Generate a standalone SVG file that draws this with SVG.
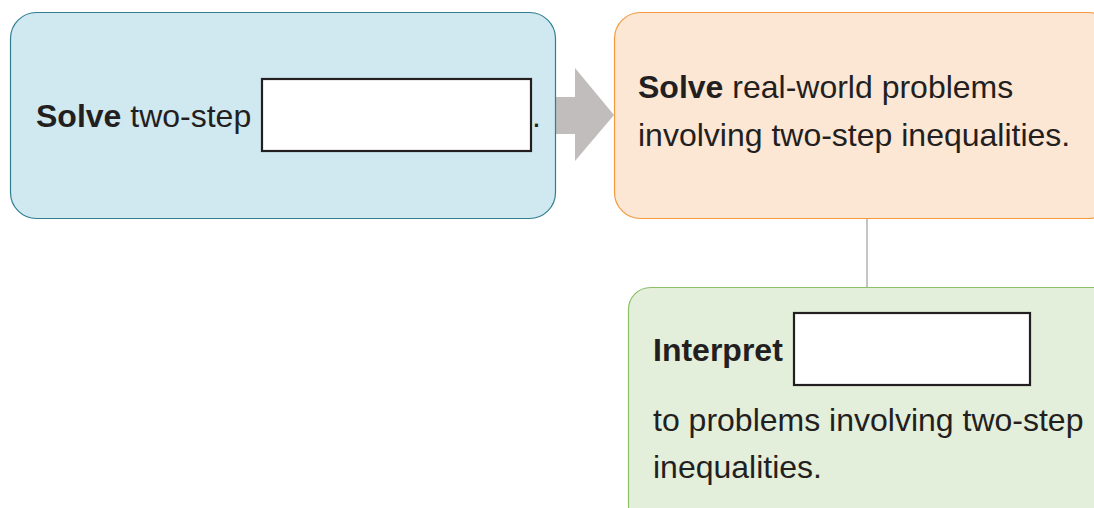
<svg xmlns="http://www.w3.org/2000/svg" width="1094" height="508" viewBox="0 0 1094 508">
<style>
text{font-family:"Liberation Sans",Arial,Helvetica,sans-serif;font-size:32px;fill:#231f20}
.b{font-weight:bold}
.blank{fill:#fff;stroke:#231f20;stroke-width:2.2}
</style>
<rect width="1094" height="508" fill="#fff"/>
<g id="connectors">
<polygon points="555,97 575,97 575,68 614,115 575,161 575,134 555,134" fill="#c1bdbc"/>
<line x1="867" y1="218" x2="867" y2="287" stroke="#c4c4c4" stroke-width="2"/>
</g>
<g id="node1">
<rect x="10.5" y="12.5" width="545" height="206" rx="26" fill="#d0e8ef" stroke="#2f7f91" stroke-width="1.2"/>
<text x="36" y="127"><tspan class="b">Solve</tspan> two-step</text>
<rect class="blank" x="262" y="79" width="269" height="72"/>
<text x="532" y="127">.</text>
</g>
<g id="node2">
<rect x="614.5" y="12.5" width="500" height="206" rx="26" fill="#fce6d4" stroke="#f39a3e" stroke-width="1.2"/>
<text x="638" y="98"><tspan class="b">Solve</tspan> real-world problems</text>
<text x="638" y="146">involving two-step inequalities.</text>
</g>
<g id="node3">
<rect x="628.5" y="287.5" width="500" height="240" rx="22" fill="#e3eedb" stroke="#8cc068" stroke-width="1.2"/>
<text class="b" x="653" y="361">Interpret</text>
<rect class="blank" x="794" y="313" width="236" height="72"/>
<text x="653" y="431">to problems involving two-step</text>
<text x="653" y="478">inequalities.</text>
</g>
</svg>
